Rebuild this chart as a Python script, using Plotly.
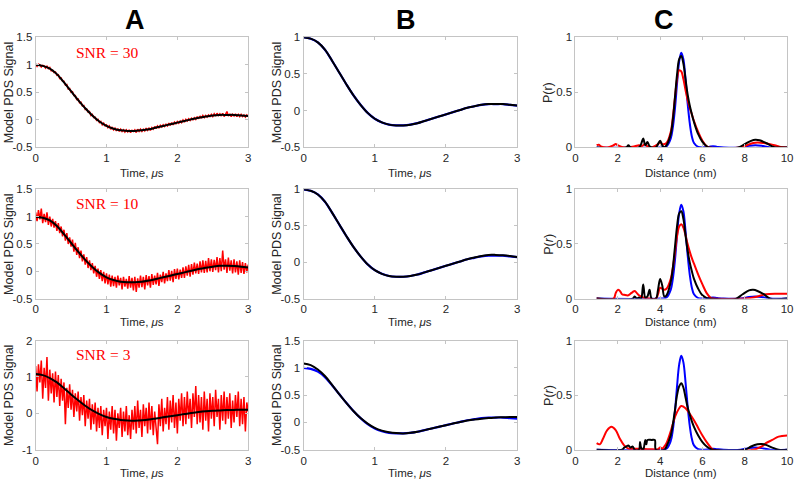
import plotly.graph_objects as go

# ---------------- data ----------------
# smooth signals sampled every 0.1 us (0 .. 3 us)
true_signal = [1.00, 0.98, 0.93, 0.83, 0.68, 0.52, 0.36, 0.21, 0.08, -0.03, -0.11,
               -0.16, -0.19, -0.20, -0.20, -0.19, -0.17, -0.14, -0.11, -0.08, -0.05,
               -0.02, 0.01, 0.04, 0.06, 0.08, 0.09, 0.09, 0.09, 0.08, 0.07]
fit_snr30 = [1.00, 0.98, 0.93, 0.83, 0.68, 0.52, 0.36, 0.21, 0.08, -0.03, -0.11,
             -0.16, -0.19, -0.20, -0.20, -0.19, -0.17, -0.14, -0.11, -0.08, -0.05,
             -0.02, 0.01, 0.04, 0.06, 0.08, 0.09, 0.09, 0.09, 0.08, 0.07]
fit_snr10 = [1.00, 0.98, 0.93, 0.83, 0.68, 0.52, 0.36, 0.21, 0.08, -0.03, -0.11,
             -0.16, -0.19, -0.20, -0.20, -0.19, -0.17, -0.14, -0.11, -0.08, -0.05,
             -0.02, 0.01, 0.04, 0.065, 0.085, 0.10, 0.10, 0.095, 0.085, 0.07]
fit_snr3 = [1.08, 1.05, 0.97, 0.85, 0.69, 0.52, 0.36, 0.21, 0.08, -0.02, -0.10,
            -0.15, -0.18, -0.195, -0.20, -0.19, -0.17, -0.14, -0.11, -0.08, -0.05,
            -0.02, 0.01, 0.035, 0.055, 0.07, 0.08, 0.09, 0.095, 0.10, 0.10]

# noisy signals sampled every 0.02 us
noisy_snr30 = [1.01, 0.97, 1.01, 1.00, 0.96, 0.99, 0.98, 0.94, 0.98, 0.93,
               0.95, 0.89, 0.90, 0.86, 0.87, 0.81, 0.82, 0.75, 0.76, 0.70,
               0.70, 0.63, 0.64, 0.56, 0.57, 0.50, 0.51, 0.44, 0.44, 0.37,
               0.38, 0.31, 0.32, 0.25, 0.26, 0.19, 0.20, 0.14, 0.15, 0.08,
               0.10, 0.04, 0.05, -0.01, 0.01, -0.05, -0.03, -0.09, -0.06, -0.11,
               -0.09, -0.14, -0.11, -0.17, -0.13, -0.18, -0.15, -0.20, -0.16, -0.21,
               -0.17, -0.21, -0.18, -0.22, -0.18, -0.22, -0.18, -0.23, -0.19, -0.21,
               -0.18, -0.23, -0.17, -0.21, -0.17, -0.21, -0.17, -0.20, -0.15, -0.19,
               -0.15, -0.19, -0.14, -0.17, -0.12, -0.16, -0.11, -0.15, -0.10, -0.13,
               -0.09, -0.12, -0.08, -0.11, -0.06, -0.10, -0.05, -0.09, -0.04, -0.07,
               -0.03, -0.06, -0.02, -0.05, 0.00, -0.04, 0.01, -0.02, 0.02, -0.01,
               0.03, 0.00, 0.04, 0.01, 0.06, 0.02, 0.07, 0.03, 0.08, 0.04,
               0.08, 0.05, 0.09, 0.06, 0.10, 0.06, 0.11, 0.07, 0.12, 0.08,
               0.11, 0.07, 0.12, 0.06, 0.10, 0.15, 0.07, 0.11, 0.06, 0.10,
               0.07, 0.11, 0.06, 0.10, 0.06, 0.10, 0.06, 0.09, 0.05, 0.09, 0.06]
noisy_snr10 = [1.08, 0.92, 1.12, 0.95, 1.15, 0.88, 1.05, 0.90, 1.08, 0.85,
               1.00, 0.82, 0.96, 0.80, 0.92, 0.74, 0.88, 0.70, 0.82, 0.64,
               0.76, 0.56, 0.70, 0.50, 0.62, 0.45, 0.58, 0.36, 0.52, 0.30,
               0.44, 0.24, 0.38, 0.18, 0.31, 0.12, 0.26, 0.06, 0.20, 0.02,
               0.15, -0.04, 0.10, -0.10, 0.05, -0.14, 0.02, -0.18, -0.01, -0.22,
               -0.04, -0.24, -0.06, -0.28, -0.08, -0.27, -0.10, -0.30, -0.08, -0.26,
               -0.12, -0.33, -0.10, -0.28, -0.14, -0.32, -0.09, -0.30, -0.12, -0.35,
               -0.10, -0.38, -0.13, -0.30, -0.08, -0.29, -0.10, -0.33, -0.07, -0.26,
               -0.09, -0.30, -0.05, -0.25, -0.08, -0.24, -0.03, -0.27, -0.06, -0.20,
               -0.01, -0.22, -0.04, -0.18, 0.02, -0.17, 0.01, -0.20, 0.04, -0.14,
               0.05, -0.15, 0.03, -0.12, 0.07, -0.12, 0.09, -0.08, 0.12, -0.10,
               0.13, -0.06, 0.16, -0.04, 0.14, -0.05, 0.18, -0.02, 0.20, -0.03,
               0.19, -0.02, 0.24, 0.00, 0.22, -0.01, 0.21, 0.02, 0.26, -0.02,
               0.24, 0.00, 0.38, 0.03, 0.22, -0.03, 0.25, 0.01, 0.20, -0.04,
               0.22, -0.02, 0.18, -0.06, 0.20, -0.03, 0.17, -0.05, 0.15, -0.02, 0.12]
noisy_snr3 = [1.30, 0.60, 1.35, 0.85, 1.45, 0.40, 1.25, 0.70, 1.55, 0.35,
              1.20, 0.55, 1.10, 0.30, 1.15, 0.45, 1.05, 0.20, 0.95, 0.35,
              0.85, -0.30, 0.70, 0.15, 0.80, 0.10, 0.65, -0.10, 0.55, 0.05,
              0.60, -0.20, 0.45, -0.05, 0.50, -0.35, 0.35, -0.15, 0.40, -0.45,
              0.25, -0.30, 0.30, -0.50, 0.15, -0.40, 0.20, -0.60, 0.10, -0.35,
              0.15, -0.70, 0.05, -0.45, 0.20, -0.55, 0.10, -0.75, 0.00, -0.40,
              0.15, -0.65, 0.05, -0.50, 0.20, -0.60, -0.05, -0.70, 0.10, -0.45,
              0.20, -0.55, 0.35, -0.40, 0.10, -0.65, 0.25, -0.35, 0.15, -0.55,
              0.30, -0.45, 0.20, -0.60, 0.05, -0.40, -0.85, 0.25, -0.35, 0.40,
              -0.50, 0.15, -0.30, 0.45, -0.45, 0.35, -0.25, 0.50, -0.40, 0.30,
              -0.55, 0.40, -0.20, 0.55, -0.35, 0.45, -0.30, 0.60, -0.15, 0.40,
              -0.40, 0.55, -0.10, 0.75, -0.30, 0.50, -0.25, 0.45, -0.45, 0.60,
              -0.20, 0.40, -0.50, 0.55, -0.15, 0.45, -0.35, 0.65, -0.10, 0.40,
              -0.45, 0.50, -0.20, 0.60, -0.30, 0.45, -0.15, 0.55, -0.40, 0.35,
              -0.25, 0.50, -0.10, 0.60, -0.35, 0.40, -0.30, 0.45, -0.50, 0.30, 0.05]

# distance distributions P(r)
r_true = [1.0, 4.0, 4.3, 4.5, 4.6, 4.7, 4.8, 4.9, 5.0, 5.1, 5.2, 5.3, 5.4, 5.5, 5.6,
          5.8, 6.0, 6.3, 6.5, 6.7, 7.0, 7.8, 8.2, 8.5, 8.8, 9.2, 10.0]
p_true = [0, 0, 0.01, 0.08, 0.18, 0.35, 0.58, 0.78, 0.86, 0.80, 0.62, 0.40, 0.22, 0.10, 0.04,
          0.005, 0, 0.005, 0.01, 0.005, 0, 0, 0.015, 0.02, 0.015, 0, 0]

r_fit30 = [1.0, 2.4, 2.5, 2.6, 3.0, 3.1, 3.2, 3.3, 3.4, 3.5, 3.6, 3.8, 3.9, 4.0, 4.1, 4.2,
           4.3, 4.5, 4.6, 4.7, 4.8, 4.9, 5.0, 5.1, 5.2, 5.3, 5.4, 5.5, 5.6, 5.8, 6.0, 6.2,
           6.3, 7.7, 8.0, 8.3, 8.5, 8.7, 9.0, 9.3, 9.5, 10.0]
p_fit30 = [0, 0, 0.02, 0, 0, 0.03, 0.08, 0.02, 0.05, 0.01, 0, 0, 0.03, 0.06, 0.02, 0,
           0.02, 0.12, 0.25, 0.45, 0.66, 0.80, 0.83, 0.76, 0.62, 0.48, 0.38, 0.30, 0.23, 0.12, 0.05, 0.01,
           0, 0, 0.03, 0.06, 0.07, 0.065, 0.04, 0.01, 0, 0]
r_alt30 = [1.0, 1.1, 1.2, 1.5, 1.8, 1.9, 2.0, 2.3, 2.8, 3.0, 3.1, 3.3, 3.4, 3.6, 3.9, 4.0,
           4.1, 4.3, 4.5, 4.6, 4.7, 4.8, 4.9, 5.0, 5.1, 5.2, 5.3, 5.4, 5.5, 5.6, 5.8, 6.0,
           6.2, 6.3, 7.8, 8.1, 8.4, 8.6, 8.9, 9.2, 9.5, 9.7, 10.0]
p_alt30 = [0.02, 0.025, 0.01, 0, 0.02, 0.03, 0.02, 0, 0.01, 0.02, 0.01, 0.03, 0.01, 0, 0.03, 0.05,
           0.03, 0.04, 0.14, 0.27, 0.45, 0.62, 0.70, 0.69, 0.62, 0.52, 0.43, 0.36, 0.30, 0.24, 0.14, 0.06,
           0.01, 0, 0, 0.02, 0.04, 0.045, 0.04, 0.03, 0.015, 0.005, 0]

r_fit10 = [1.0, 2.7, 2.8, 2.9, 3.0, 3.1, 3.2, 3.3, 3.4, 3.5, 3.6, 3.8, 3.9, 4.0, 4.1, 4.2,
           4.3, 4.5, 4.6, 4.7, 4.8, 4.9, 5.0, 5.1, 5.2, 5.3, 5.4, 5.5, 5.6, 5.8, 6.0, 6.2,
           6.3, 7.6, 7.9, 8.2, 8.4, 8.6, 8.9, 9.2, 10.0]
p_fit10 = [0, 0, 0.02, 0, 0.01, 0, 0.13, 0.01, 0.02, 0.08, 0, 0, 0.08, 0.18, 0.12, 0.02,
           0.03, 0.15, 0.28, 0.47, 0.66, 0.78, 0.80, 0.73, 0.58, 0.44, 0.33, 0.25, 0.18, 0.09, 0.03, 0.005,
           0, 0, 0.04, 0.075, 0.08, 0.07, 0.04, 0, 0]
r_alt10 = [1.0, 1.8, 1.9, 2.0, 2.1, 2.2, 2.3, 2.5, 2.6, 2.7, 2.8, 2.9, 3.0, 3.2, 3.5, 3.8,
           3.9, 4.0, 4.1, 4.2, 4.3, 4.5, 4.6, 4.7, 4.8, 4.9, 5.0, 5.1, 5.2, 5.3, 5.4, 5.5,
           5.6, 5.8, 6.0, 6.2, 6.4, 6.5, 8.0, 8.4, 8.8, 9.0, 9.5, 10.0]
p_alt10 = [0, 0, 0.05, 0.08, 0.07, 0.04, 0.035, 0.03, 0.045, 0.06, 0.07, 0.05, 0.03, 0.01, 0, 0,
           0.04, 0.10, 0.09, 0.08, 0.09, 0.18, 0.28, 0.42, 0.57, 0.66, 0.68, 0.65, 0.58, 0.50, 0.43, 0.37,
           0.32, 0.22, 0.13, 0.05, 0.005, 0, 0, 0.01, 0.03, 0.04, 0.045, 0.045]

r_fit3 = [1.0, 2.2, 2.3, 2.4, 2.5, 2.6, 2.7, 2.8, 3.0, 3.05, 3.1, 3.2, 3.3, 3.35, 3.4, 3.6,
          3.75, 3.8, 4.2, 4.3, 4.5, 4.6, 4.7, 4.8, 4.9, 5.0, 5.1, 5.2, 5.3, 5.4, 5.5, 5.6,
          5.8, 6.0, 6.2, 6.4, 6.5, 8.0, 8.3, 8.6, 8.8, 9.0, 9.3, 9.6, 10.0]
p_fit3 = [0, 0, 0.02, 0.03, 0.04, 0.02, 0.03, 0, 0, 0.07, 0.02, 0, 0.09, 0.05, 0.09, 0.09,
          0.09, 0, 0, 0.03, 0.13, 0.23, 0.36, 0.50, 0.58, 0.61, 0.57, 0.48, 0.39, 0.32, 0.26, 0.21,
          0.13, 0.07, 0.03, 0.005, 0, 0, 0.03, 0.05, 0.053, 0.045, 0.02, 0, 0]
r_alt3 = [1.0, 1.15, 1.3, 1.5, 1.7, 1.9, 2.1, 2.3, 2.5, 2.7, 3.0, 3.5, 3.9, 4.0, 4.1, 4.2,
          4.3, 4.5, 4.7, 4.9, 5.0, 5.2, 5.4, 5.6, 5.8, 6.0, 6.2, 6.4, 6.5, 8.4, 8.8, 9.0,
          9.3, 9.6, 10.0]
p_alt3 = [0.06, 0.05, 0.10, 0.18, 0.21, 0.18, 0.10, 0.04, 0.01, 0.01, 0.01, 0.005, 0.005, 0.02, 0.01, 0.03,
          0.06, 0.17, 0.30, 0.38, 0.40, 0.38, 0.33, 0.27, 0.20, 0.13, 0.07, 0.02, 0, 0, 0.03, 0.06,
          0.09, 0.12, 0.13]

snr_labels = ["SNR = 30", "SNR = 10", "SNR = 3"]
panel_letters = ["A", "B", "C"]

# ---------------- layout helpers ----------------
W, H = 800, 486
col_px = [(33, 248), (304, 520), (579, 793)]
row_px = [(32, 145), (188, 300), (343, 455)]
RED, BLUE, BLACK = "#ff0000", "#0000ff", "#000000"
FONT = "Liberation Sans, Arial, sans-serif"
TXT = "#262626"

t_smooth = [round(i * 0.1, 2) for i in range(len(true_signal))]


def tgrid(vals):
    return [round(i * 0.02, 2) for i in range(len(vals))]


fig = go.Figure()


def axid(r, c):
    k = r * 3 + c + 1
    return ("x" if k == 1 else f"x{k}"), ("y" if k == 1 else f"y{k}"), k


def add(r, c, x, y, color, width, shape="linear"):
    xa, ya, _ = axid(r, c)
    fig.add_trace(go.Scatter(x=x, y=y, mode="lines", xaxis=xa, yaxis=ya,
                             line=dict(color=color, width=width, shape=shape),
                             showlegend=False, hoverinfo="skip"))


noisy = [noisy_snr30, noisy_snr10, noisy_snr3]
fits = [fit_snr30, fit_snr10, fit_snr3]
fits_r = [(r_fit30, p_fit30), (r_fit10, p_fit10), (r_fit3, p_fit3)]
alts_r = [(r_alt30, p_alt30), (r_alt10, p_alt10), (r_alt3, p_alt3)]

for r in range(3):
    # column A
    add(r, 0, tgrid(noisy[r]), noisy[r], RED, 1.5)
    add(r, 0, t_smooth, fits[r], BLACK, 2, "spline")
    # column B
    add(r, 1, t_smooth, true_signal, BLUE, 2.2, "spline")
    add(r, 1, t_smooth, fits[r], BLACK, 2, "spline")
    # column C
    add(r, 2, r_true, p_true, BLUE, 2, "spline")
    add(r, 2, alts_r[r][0], alts_r[r][1], RED, 2, "spline")
    add(r, 2, fits_r[r][0], fits_r[r][1], BLACK, 2, "spline")


def ticks(vals):
    return [("%g" % v) for v in vals]


axis_style = dict(showline=True, mirror="ticks", linecolor="#c4c4c4", linewidth=1,
                  ticks="inside", ticklen=3, tickcolor="#c4c4c4", showgrid=False,
                  zeroline=False, tickfont=dict(family=FONT, size=11.5, color=TXT),
                  fixedrange=True)

yspecs = {
    (0, 0): ([-0.5, 1.5], [-0.5, 0, 0.5, 1, 1.5]),
    (1, 0): ([-0.5, 1.5], [-0.5, 0, 0.5, 1, 1.5]),
    (2, 0): ([-1, 2], [-1, 0, 1, 2]),
    (0, 1): ([-0.5, 1], [-0.5, 0, 0.5, 1]),
    (1, 1): ([-0.5, 1], [-0.5, 0, 0.5, 1]),
    (2, 1): ([-0.5, 1.5], [-0.5, 0, 0.5, 1, 1.5]),
}

layout = dict(width=W, height=H, margin=dict(l=0, r=0, t=0, b=0),
              plot_bgcolor="white", paper_bgcolor="white", showlegend=False)
annotations = []

for r in range(3):
    for c in range(3):
        xa, ya, k = axid(r, c)
        x0, x1 = col_px[c]
        y0, y1 = row_px[r]
        if c < 2:
            xr, xt = [0, 3], [0, 1, 2, 3]
            yr, yt = yspecs[(r, c)]
        else:
            xr, xt = [0, 10], [0, 2, 4, 6, 8, 10]
            yr, yt = [0, 1], [0, 0.5, 1]
        xkey = "xaxis" if k == 1 else f"xaxis{k}"
        ykey = "yaxis" if k == 1 else f"yaxis{k}"
        layout[xkey] = dict(axis_style, domain=[x0 / W, x1 / W], range=xr,
                            tickvals=xt, ticktext=ticks(xt), anchor=ya)
        layout[ykey] = dict(axis_style, domain=[1 - y1 / H, 1 - y0 / H], range=yr,
                            tickvals=yt, ticktext=ticks(yt), anchor=xa)
        # axis titles
        xtitle = "Time, <i>μ</i>s" if c < 2 else "Distance (nm)"
        xt_y = [171, 324, 479][r]
        annotations.append(dict(text=xtitle, x=(x0 + x1) / 2 / W, y=1 - xt_y / H,
                                xref="paper", yref="paper", showarrow=False,
                                xanchor="center", yanchor="middle",
                                font=dict(family=FONT, size=11.5, color=TXT)))
        if c < 2:
            ytitle, ytx = "Model PDS Signal", [6, 277][c]
        else:
            ytitle, ytx = ("P(r)" if r == 0 else "P(<i>r</i>)"), 552
        annotations.append(dict(text=ytitle, x=ytx / W, y=1 - (y0 + y1) / 2 / H,
                                xref="paper", yref="paper", showarrow=False,
                                textangle=-90, xanchor="center", yanchor="middle",
                                font=dict(family=FONT, size=12.5, color=TXT)))

# SNR labels
for r, lbl in enumerate(snr_labels):
    yc = [48, 203, 357][r]
    annotations.append(dict(text=lbl, x=72 / W, y=1 - yc / H, xref="paper", yref="paper",
                            showarrow=False, xanchor="left", yanchor="middle",
                            font=dict(family="Liberation Serif, Times New Roman, serif",
                                      size=15.5, color=RED)))

# panel letters
for c, letter in enumerate(panel_letters):
    xc = [133, 408, 669][c]
    annotations.append(dict(text="<b>%s</b>" % letter, x=xc / W, y=1 - 14 / H,
                            xref="paper", yref="paper", showarrow=False,
                            xanchor="center", yanchor="middle",
                            font=dict(family=FONT, size=27, color="#000000")))

layout["annotations"] = annotations
fig.update_layout(**layout)
fig.write_html("out.html", config={"displayModeBar": False},
               post_script="document.body.style.margin='0';document.body.style.overflow='hidden';")
